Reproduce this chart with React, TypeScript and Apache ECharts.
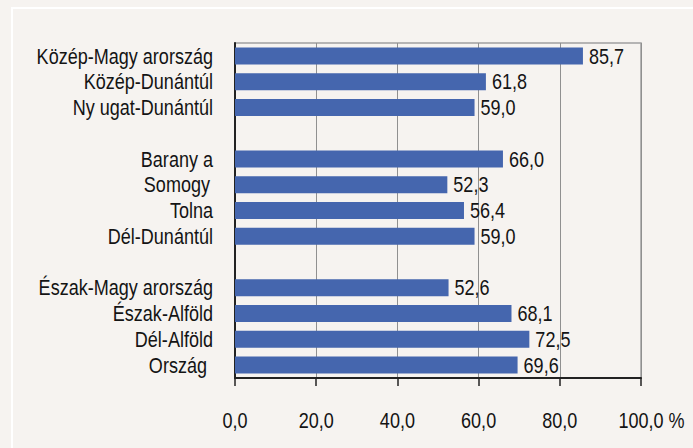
import React, { useEffect, useRef } from "react";
import * as echarts from "echarts";

const categories = [
  "Közép-Magy arország",
  "Közép-Dunántúl",
  "Ny ugat-Dunántúl",
  "",
  "Barany a",
  "Somogy",
  "Tolna",
  "Dél-Dunántúl",
  " ",
  "Észak-Magy arország",
  "Észak-Alföld",
  "Dél-Alföld",
  "Ország",
];
const values: (number | null)[] = [85.7, 61.8, 59.0, null, 66.0, 52.3, 56.4, 59.0, null, 52.6, 68.1, 72.5, 69.6];
const xTicks = [0, 20, 40, 60, 80, 100];
const xTickLabels = ["0,0", "20,0", "40,0", "60,0", "80,0", "100,0"];
const xUnit = " %";

const FONT = "'Liberation Sans', Arial, sans-serif";
const FS = 22;
const SX = 0.82;
const TXT = "#141414";
// small right shifts of a few category labels (trailing blanks in the original)
const labelShift: Record<string, number> = { Somogy: 3, "Ország": 6 };

function measure(t: string) {
  const c = document.createElement("canvas").getContext("2d");
  if (!c) return t.length * FS * 0.55;
  c.font = `${FS}px 'Liberation Sans', Arial, sans-serif`;
  return c.measureText(t).width;
}

export default function App() {
  const ref = useRef<HTMLDivElement>(null);
  useEffect(() => {
    if (!ref.current) return;
    const chart = echarts.init(ref.current, undefined, { renderer: "svg" });
    const GL = 235, GT = 43, GR = 52, GB = 70;
    chart.setOption({
      animation: false,
      backgroundColor: "#f6f3f0",
      textStyle: { fontFamily: FONT },
      grid: {
        left: GL,
        top: GT,
        right: GR,
        bottom: GB,
        show: true,
        borderColor: "#a0a0a0",
        borderWidth: 1.5,
        backgroundColor: "transparent",
      },
      xAxis: {
        type: "value",
        min: 0,
        max: 100,
        interval: 20,
        axisLine: { show: true, lineStyle: { color: "#222", width: 2 } },
        axisTick: { show: true, length: 8, lineStyle: { color: "#222", width: 1.5 } },
        splitLine: { show: true, lineStyle: { color: "#909090", width: 1 } },
        axisLabel: { show: false },
      },
      yAxis: {
        type: "category",
        inverse: true,
        data: categories,
        axisLine: { show: true, lineStyle: { color: "#222", width: 2 } },
        axisTick: { show: false },
        axisLabel: { show: false },
      },
      series: [
        {
          type: "bar",
          data: values,
          barWidth: 17,
          itemStyle: { color: "#4566ae" },
          label: { show: false },
        },
      ],
    });

    const texts: any[] = [];
    const mk = (text: string, x: number, y: number, align: string) => ({
      type: "text",
      x,
      y,
      scaleX: SX,
      silent: true,
      style: {
        text,
        x: 0,
        y: 0,
        fill: TXT,
        font: `${FS}px ${FONT}`,
        textAlign: align,
        textVerticalAlign: "middle",
      },
    });
    categories.forEach((c) => {
      if (!c.trim()) return;
      const y = chart.convertToPixel({ yAxisIndex: 0 }, c) as number;
      texts.push(mk(c, 235 - 22 - (labelShift[c] || 0), y, "right"));
    });
    values.forEach((v, i) => {
      if (v == null) return;
      const [px, py] = chart.convertToPixel({ gridIndex: 0 }, [v, categories[i]]) as number[];
      texts.push(mk(v.toFixed(1).replace(".", ","), px + 6, py, "left"));
    });
    xTicks.forEach((t, i) => {
      const px = chart.convertToPixel({ xAxisIndex: 0 }, t) as number;
      const lbl = xTickLabels[i];
      if (i === xTicks.length - 1) {
        const w = measure(lbl) * SX;
        texts.push(mk(lbl + xUnit, px - w / 2, 420, "left"));
      } else {
        texts.push(mk(lbl, px, 420, "center"));
      }
    });

    chart.setOption({
      graphic: [
        {
          type: "rect",
          shape: { x: 12, y: 8, width: 720, height: 480 },
          style: { fill: "none", stroke: "#ffffff", lineWidth: 2 },
          silent: true,
        },
        ...texts,
      ],
    });
    return () => chart.dispose();
  }, []);
  return <div ref={ref} style={{ width: 693, height: 448, position: "absolute", left: 0, top: 0 }} />;
}
